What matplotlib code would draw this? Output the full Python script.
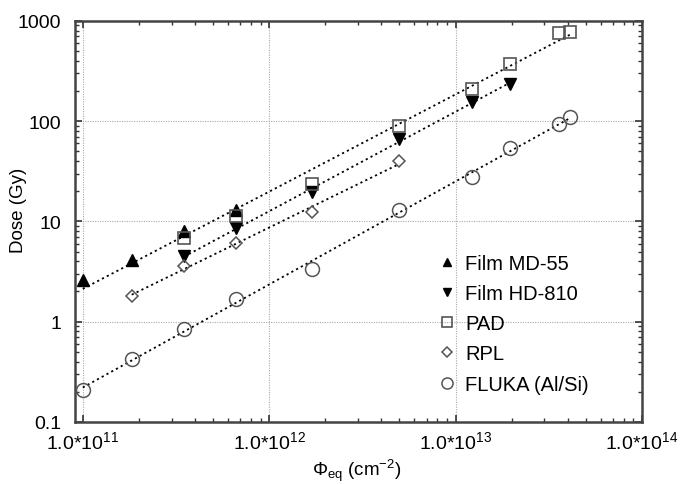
import numpy as np
import matplotlib
matplotlib.use('Agg')
from matplotlib import pyplot as plt
from matplotlib import ticker

plt.rcParams['font.family'] = ['Liberation Sans', 'DejaVu Sans']
plt.rcParams['mathtext.fontset'] = 'custom'
plt.rcParams['mathtext.rm'] = 'Liberation Sans'
plt.rcParams['mathtext.it'] = 'Liberation Sans:italic'

# data
x_md55 = [1.0e11, 1.83e11, 3.5e11, 6.6e11]
y_md55 = [2.6, 4.1, 8.1, 13.0]

x_hd810 = [3.5e11, 6.6e11, 1.7e12, 5.0e12, 1.23e13, 1.95e13]
y_hd810 = [4.5, 8.6, 19.5, 66, 155, 235]

x_pad = [3.5e11, 6.6e11, 1.7e12, 5.0e12, 1.23e13, 1.95e13, 3.6e13, 4.1e13]
y_pad = [6.8, 11.2, 23.5, 90, 210, 375, 750, 780]

x_rpl = [1.83e11, 3.5e11, 6.6e11, 1.7e12, 5.0e12]
y_rpl = [1.8, 3.6, 6.1, 12.3, 40]

x_fluka = [1.0e11, 1.83e11, 3.5e11, 6.6e11, 1.7e12, 5.0e12, 1.23e13, 1.95e13, 3.6e13, 4.1e13]
y_fluka = [0.21, 0.42, 0.85, 1.7, 3.35, 13.0, 27.5, 54, 93, 110]

xticks = [1e11, 1e12, 1e13, 1e14]
xticklabels = [r'1.0*10$^{\mathregular{11}}$', r'1.0*10$^{\mathregular{12}}$',
               r'1.0*10$^{\mathregular{13}}$', r'1.0*10$^{\mathregular{14}}$']
yticks = [0.1, 1, 10, 100, 1000]
yticklabels = ['0.1', '1', '10', '100', '1000']


def fitline(xs, ys):
    # power-law fit, drawn across the data range
    p = np.polyfit(np.log10(xs), np.log10(ys), 1)
    xx = np.logspace(np.log10(min(xs)), np.log10(max(xs)), 50)
    return xx, 10**np.polyval(p, np.log10(xx))


fig = plt.figure(figsize=(6.8, 4.85), dpi=100)
ax = fig.add_axes([0.110, 0.128, 0.834, 0.827])

ax.set_xscale('log')
ax.set_yscale('log')

lk = dict(color='black', ls=(0, (1.2, 1.8)), lw=1.3, zorder=2)
xx, yy = fitline(x_md55 + x_pad, y_md55 + y_pad)
ax.plot(xx, yy, **lk)
xx, yy = fitline(x_hd810, y_hd810)
ax.plot(xx, yy, **lk)
xx, yy = fitline(x_rpl, y_rpl)
ax.plot(xx, yy, **lk)
xx, yy = fitline(x_fluka, y_fluka)
ax.plot(xx, yy, **lk)

gray = '#555555'
ax.plot(x_md55, y_md55, ls='none', marker='^', ms=8, color='black', label='Film MD-55', zorder=3)
ax.plot(x_hd810, y_hd810, ls='none', marker='v', ms=8, color='black', label='Film HD-810', zorder=3)
ax.plot(x_pad, y_pad, ls='none', marker='s', ms=9, mfc='none', mec=gray, mew=1.2, label='PAD', zorder=3)
ax.plot(x_rpl, y_rpl, ls='none', marker='D', ms=6.5, mfc='none', mec=gray, mew=1.1, label='RPL', zorder=3)
ax.plot(x_fluka, y_fluka, ls='none', marker='o', ms=10, mfc='none', mec=gray, mew=1.1, label='FLUKA (Al/Si)', zorder=3)

ax.set_xlim(9.06e10, 1e14)
ax.set_ylim(0.1, 1000)

ax.set_xticks(xticks)
ax.set_xticklabels(xticklabels)
ax.set_yticks(yticks)
ax.set_yticklabels(yticklabels)
ax.xaxis.set_minor_locator(ticker.LogLocator(base=10, subs=np.arange(2, 10)))
ax.yaxis.set_minor_locator(ticker.LogLocator(base=10, subs=np.arange(2, 10)))
ax.xaxis.set_minor_formatter(ticker.NullFormatter())
ax.yaxis.set_minor_formatter(ticker.NullFormatter())
ax.tick_params(which='both', direction='in', top=True, right=True, colors='#333333',
               labelcolor='black', labelsize=14)
ax.tick_params(which='major', length=5, width=1.2, pad=6)
ax.tick_params(which='minor', length=3, width=1.0)
ax.tick_params(axis='y', which='major', pad=10)

ax.grid(True, which='major', color='#aaaaaa', ls=(0, (1, 1.2)), lw=0.8)
for s in ax.spines.values():
    s.set_linewidth(1.8)
    s.set_color('#444444')

ax.set_ylabel('Dose (Gy)', fontsize=13.5, va='center')
ax.yaxis.set_label_coords(-0.099, 0.53)
ax.set_xlabel(r'$\Phi_{\mathregular{eq}}$ (cm$^{\mathregular{-2}}$)', fontsize=13.5, va='top')
ax.xaxis.set_label_coords(0.497, -0.087)

ax.legend(loc='upper left', bbox_to_anchor=(0.642, 0.418), frameon=False, fontsize=14.5,
          handlelength=0.8, handletextpad=0.5, labelspacing=0.55, borderaxespad=0,
          borderpad=0, markerscale=0.8)

fig.savefig('out.png', dpi=100)
